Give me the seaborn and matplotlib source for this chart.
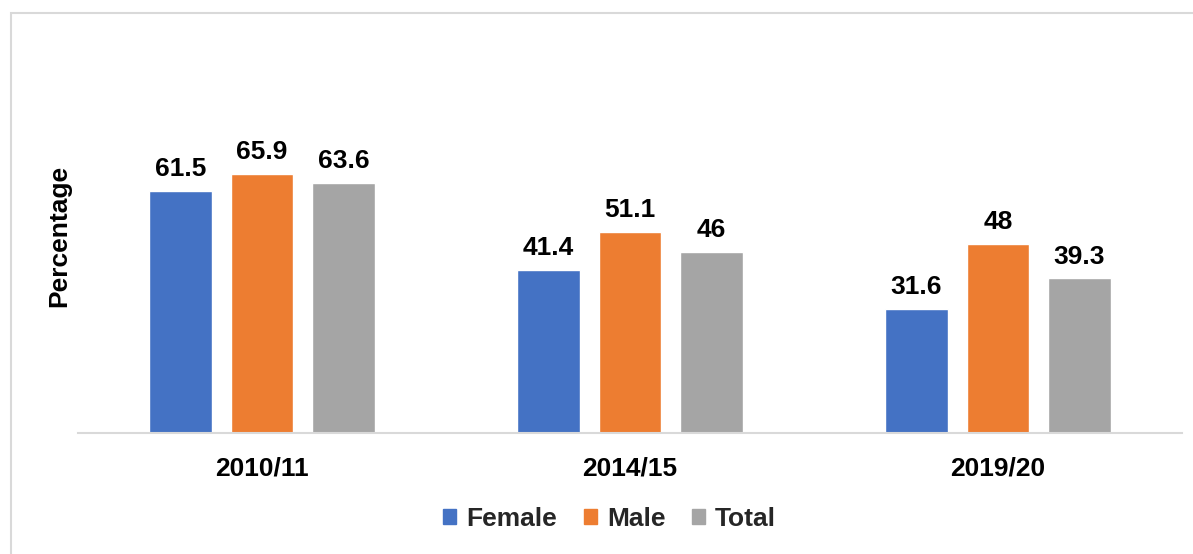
import pandas as pd
import seaborn as sns
import matplotlib.pyplot as plt
from matplotlib.patches import Rectangle

years = ['2010/11', '2014/15', '2019/20']
female = [61.5, 41.4, 31.6]
male = [65.9, 51.1, 48]
total = [63.6, 46, 39.3]
groups = ['Female', 'Male', 'Total']
colors = ['#4472C4', '#ED7D31', '#A5A5A5']

df = pd.DataFrame({'Year': years, 'Female': female, 'Male': male, 'Total': total})
df = df.melt(id_vars='Year', value_vars=groups, var_name='Sex', value_name='Percentage')

sns.set_theme(style='white')
plt.rcParams['font.family'] = ['Liberation Sans', 'DejaVu Sans']
plt.rcParams['font.weight'] = 'bold'
fs = 19

fig = plt.figure(figsize=(11.93, 5.54), dpi=100)
ax = fig.add_axes([0.0654, 0.2184, 0.9254, 0.5686])

sns.barplot(data=df, x='Year', y='Percentage', hue='Sex', hue_order=groups,
            palette=colors, saturation=1, width=0.664, gap=0.23, ax=ax)

for cont in ax.containers:
    ax.bar_label(cont, fmt='{:g}', padding=7, fontsize=fs, fontweight='bold', color='black')

ax.set_ylim(0, 80)
ax.set_yticks([])
ax.set_xlabel('')
ax.set_ylabel('Percentage', fontsize=fs, fontweight='bold', color='black')
ax.yaxis.set_label_coords(-0.006, 0.625)
ax.tick_params(axis='x', length=0, pad=17, labelsize=fs, labelcolor='black')
for lab in ax.get_xticklabels():
    lab.set_fontweight('bold')

for s in ['top', 'right', 'left']:
    ax.spines[s].set_visible(False)
ax.spines['bottom'].set_color('#d9d9d9')
ax.spines['bottom'].set_linewidth(1.5)

ax.legend_.remove()
handles = [Rectangle((0, 0), 1, 1, color=c) for c in colors]
fig.legend(handles, groups, loc='center', bbox_to_anchor=(0.511, 0.063), ncol=3,
           frameon=False, fontsize=fs, handlelength=0.5, handleheight=0.5,
           handletextpad=0.38, columnspacing=1.0)

# outer chart border (top and left visible in the reference)
fig.patches.append(Rectangle((11 / 1193, -0.1), 1.2, 0.1 + 1 - 13 / 554,
                             transform=fig.transFigure, fill=False,
                             edgecolor='#d9d9d9', linewidth=1.5))

fig.savefig('out.png', dpi=100)
